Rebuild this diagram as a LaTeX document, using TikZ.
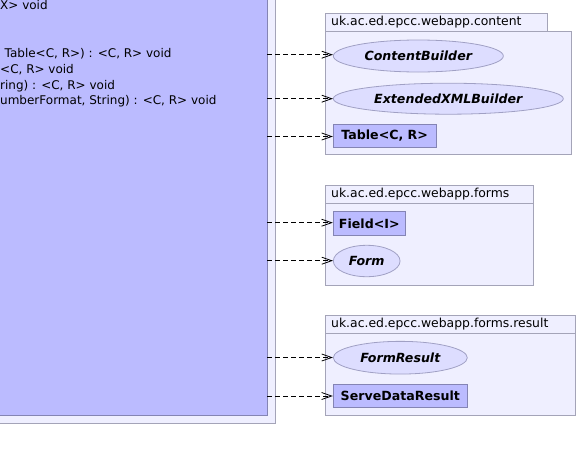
\documentclass[tikz,border=0pt]{standalone}
\usepackage{fontspec}
\setmainfont{DejaVu Sans}
\usetikzlibrary{arrows.meta,shapes.geometric}
\definecolor{clsfill}{HTML}{BBBBFF}
\definecolor{clsdraw}{HTML}{8484B4}
\definecolor{pkgfill}{HTML}{EFEFFF}
\definecolor{pkgdraw}{HTML}{A4A4B8}
\definecolor{ellfill}{HTML}{DDDDFF}
\definecolor{elldraw}{HTML}{A0A0C4}
\tikzset{
  pkg/.style={draw=pkgdraw,fill=pkgfill,line width=1pt},
  cls/.style={draw=clsdraw,fill=clsfill,line width=1pt},
  ifc/.style={ellipse,draw=elldraw,fill=ellfill,line width=0.8pt,inner sep=0pt,font=\bfseries\itshape\fontsize{12.6}{14}\selectfont},
  box/.style={rectangle,draw=clsdraw,fill=clsfill,line width=1pt,inner sep=0pt,font=\bfseries\fontsize{12.6}{14}\selectfont},
  txt/.style={anchor=west,inner sep=0pt,font=\fontsize{12}{14}\selectfont,text height=9pt,text depth=3pt},
  ptxt/.style={txt,font=\fontsize{12.4}{14}\selectfont},
  dep/.style={dashed,dash pattern=on 5pt off 3pt,line width=0.8pt,-{Straight Barb[length=10pt,width=7pt,line width=0.8pt]}},
}
\begin{document}
\begin{tikzpicture}[x=1pt,y=-1pt]
\useasboundingbox (0,0) rectangle (578,461);
\fill[white] (0,0) rectangle (578,461);
\clip (0,0) rectangle (578,461);
% outer package and class (cropped)
\draw[pkg] (-20,-20) rectangle (275.3,423.3);
\draw[cls] (-20,-20) rectangle (267.3,415.3);
\coordinate (c1) at (267.3,54.7);
\coordinate (c2) at (267.3,98.7);
\coordinate (c3) at (267.3,136.5);
\coordinate (c4) at (267.3,222.7);
\coordinate (c5) at (267.3,260.7);
\coordinate (c6) at (267.3,357.5);
\coordinate (c7) at (267.3,396);
\node[txt] (t1) at (0,6.7) {X> void};
\node[txt] (t2) at (4.5,54) {Table<C, R>) : <C, R> void};
\node[txt] (t3) at (0,70) {<C, R> void};
\node[txt] (t4) at (0,86) {ring) : <C, R> void};
\node[txt] (t5) at (0,101.7) {umberFormat, String) : <C, R> void};
% package content
\draw[pkg] (325.3,13.3) rectangle (547.3,31.3);
\draw[pkg] (325.3,31.3) rectangle (571.3,154.7);
\node[ptxt] (p1) at (331,22.5) {uk.ac.ed.epcc.webapp.content};
\node[ifc,minimum width=170pt,minimum height=32pt] (cb) at (418.3,56) {ContentBuilder};
\node[ifc,minimum width=230pt,minimum height=31pt] (ex) at (448.3,98.7) {ExtendedXMLBuilder};
\node[box,minimum width=102.7pt,minimum height=22.6pt] (tb) at (384.7,136) {Table<C, R>};
% package forms
\draw[pkg] (325.3,185.3) rectangle (533.3,203.3);
\draw[pkg] (325.3,203.3) rectangle (533.3,285.3);
\node[ptxt] (p2) at (331,194.5) {uk.ac.ed.epcc.webapp.forms};
\node[box,minimum width=72pt,minimum height=24pt] (fi) at (369.3,223.3) {Field<I>};
\node[ifc,minimum width=66.7pt,minimum height=31.4pt] (fo) at (366.7,261) {Form};
% package forms.result
\draw[pkg] (325.3,315.3) rectangle (575.3,333.3);
\draw[pkg] (325.3,333.3) rectangle (575.3,415.3);
\node[ptxt] (p3) at (331,324.5) {uk.ac.ed.epcc.webapp.forms.result};
\node[ifc,minimum width=134pt,minimum height=32.7pt] (fr) at (400.3,357.7) {FormResult};
\node[box,minimum width=134pt,minimum height=23.3pt] (sd) at (400.3,395.7) {ServeDataResult};
% dependencies
\draw[dep] (c1) -- (cb.west|-c1);
\draw[dep] (c2) -- (ex.west|-c2);
\draw[dep] (c3) -- (tb.west|-c3);
\draw[dep] (c4) -- (fi.west|-c4);
\draw[dep] (c5) -- (fo.west|-c5);
\draw[dep] (c6) -- (fr.west|-c6);
\draw[dep] (c7) -- (sd.west|-c7);
\end{tikzpicture}
\end{document}
